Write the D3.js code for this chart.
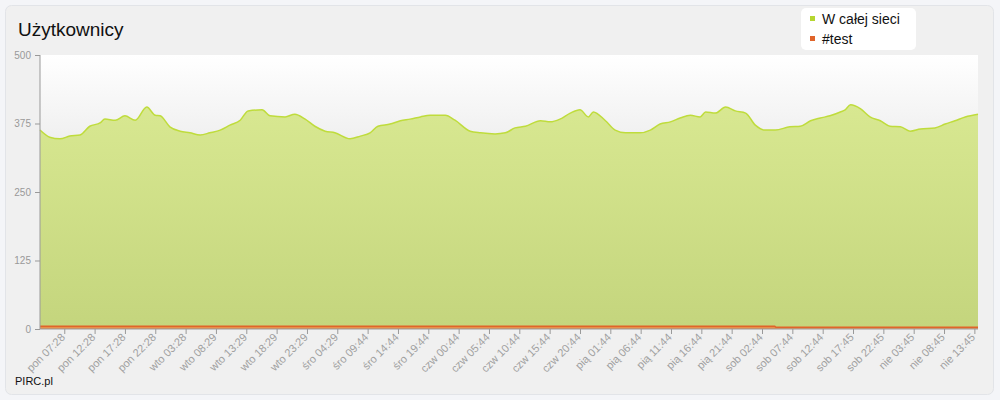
<!DOCTYPE html>
<html>
<head>
<meta charset="utf-8" />
<style>
body { margin: 0; background: #f4f5f8; font-family: "Liberation Sans", Arial, sans-serif; }
</style>
</head>
<body>
<svg id="chart" width="1000" height="400"></svg>
<script src="https://d3js.org/d3.v7.min.js"></script>
<script>
// hours since start of the window
var hours = [0, 1.6, 3.3, 4.9, 6.6, 8.2, 9.9, 10.7, 12.4, 14.0, 15.7, 17.6, 19.0, 19.8, 21.4, 23.1,
  24.7, 26.4, 28.0, 29.7, 31.3, 33.0, 34.3, 36.6, 37.9, 40.4, 42.0, 43.7, 45.3, 47.0, 48.6, 51.1,
  52.8, 54.4, 55.7, 57.7, 59.4, 61.0, 62.7, 64.3, 66.8, 68.4, 70.9, 72.6, 75.0, 76.7, 78.3, 80.0,
  82.5, 84.1, 85.7, 87.4, 89.0, 90.4, 91.2, 93.2, 94.8, 96.5, 98.9, 100.6, 102.2, 103.9, 105.5,
  107.2, 108.8, 109.7, 111.3, 113.0, 114.6, 116.3, 117.9, 119.5, 121.2, 123.6, 125.3, 127.0,
  128.6, 130.2, 131.9, 132.7, 133.6, 135.2, 136.8, 138.5, 140.1, 141.8, 143.4, 145.1, 147.5,
  149.2, 150.8, 152.5, 154.6];
var wCalejSieci = [363, 350, 347, 352, 354, 370, 376, 383, 381, 389, 381, 405, 390, 389, 369, 361,
  358, 354, 358, 363, 372, 381, 398, 400, 389, 387, 392, 383, 370, 361, 358, 347,
  352, 358, 370, 374, 380, 383, 387, 390, 390, 381, 361, 358, 356, 358, 367, 370,
  380, 378, 383, 394, 400, 387, 396, 380, 363, 358, 358, 363, 374, 378, 385,
  390, 387, 396, 394, 405, 398, 394, 372, 363, 363, 369, 370, 380,
  385, 389, 396, 400, 409, 402, 387, 380, 370, 369, 361, 365, 367,
  374, 380, 387, 392];
var testHours = [0, 121.1, 121.3, 154.6];
var test = [5, 5, 3, 3];
var tickLabels = ["pon 07:28", "pon 12:28", "pon 17:28", "pon 22:28", "wto 03:28", "wto 08:29",
  "wto 13:29", "wto 18:29", "wto 23:29", "śro 04:29", "śro 09:44", "śro 14:44", "śro 19:44",
  "czw 00:44", "czw 05:44", "czw 10:44", "czw 15:44", "czw 20:44", "pią 01:44", "pią 06:44",
  "pią 11:44", "pią 16:44", "pią 21:44", "sob 02:44", "sob 07:44", "sob 12:44", "sob 17:45",
  "sob 22:45", "nie 03:45", "nie 08:45", "nie 13:45"];
var yTicks = [0, 125, 250, 375, 500];

var svg = d3.select("#chart");
var defs = svg.append("defs");
var g1 = defs.append("linearGradient").attr("id", "bg").attr("x1", 0).attr("y1", 0).attr("x2", 0).attr("y2", 1);
g1.append("stop").attr("offset", "0").attr("stop-color", "#ffffff");
g1.append("stop").attr("offset", "0.3").attr("stop-color", "#f0f0f0");
g1.append("stop").attr("offset", "1").attr("stop-color", "#f0f0f0");
var g2 = defs.append("linearGradient").attr("id", "green").attr("x1", 0).attr("y1", 0).attr("x2", 0).attr("y2", 1);
g2.append("stop").attr("offset", "0").attr("stop-color", "#d8e891");
g2.append("stop").attr("offset", "1").attr("stop-color", "#c4d57d");

svg.append("rect").attr("x", 5.5).attr("y", 5.5).attr("width", 988).attr("height", 389)
  .attr("rx", 6).attr("fill", "#f0f0f0").attr("stroke", "#e2e4e8");

var mLeft = 40, mRight = 978, mTop = 55, mBottom = 329;
var x = d3.scaleLinear().domain([0, 154.6]).range([mLeft, mRight]);
var y = d3.scaleLinear().domain([0, 500]).range([mBottom, mTop]);

svg.append("rect").attr("x", mLeft).attr("y", mTop).attr("width", mRight - mLeft).attr("height", mBottom - mTop)
  .attr("fill", "url(#bg)");

var pts = hours.map(function(h, i) { return [h, wCalejSieci[i]]; });
svg.append("path").datum(pts)
  .attr("fill", "url(#green)")
  .attr("d", d3.area().curve(d3.curveMonotoneX).x(function(d) { return x(d[0]); }).y0(y(0)).y1(function(d) { return y(d[1]); }));
svg.append("path").datum(pts)
  .attr("fill", "none").attr("stroke", "#bfdc3c").attr("stroke-width", 1.5)
  .attr("d", d3.line().curve(d3.curveMonotoneX).x(function(d) { return x(d[0]); }).y(function(d) { return y(d[1]); }));

var tpts = testHours.map(function(h, i) { return [h, test[i]]; });
svg.append("path").datum(tpts)
  .attr("fill", "#e8904a")
  .attr("d", d3.area().x(function(d) { return x(d[0]); }).y0(y(0)).y1(function(d) { return y(d[1]); }));
svg.append("path").datum(tpts)
  .attr("fill", "none").attr("stroke", "#e0642a").attr("stroke-width", 1.5)
  .attr("d", d3.line().x(function(d) { return x(d[0]); }).y(function(d) { return y(d[1]); }));

// y axis
var ya = svg.append("g").attr("transform", "translate(" + mLeft + ",0)")
  .call(d3.axisLeft(y).tickValues(yTicks).tickSize(5).tickPadding(4));
ya.select(".domain").attr("stroke", "#999").attr("d", "M0," + mTop + "V" + mBottom);
ya.selectAll(".tick line").attr("stroke", "#999");
ya.selectAll("text").attr("fill", "#999").attr("font-size", 10).attr("font-family", "Liberation Sans, Arial");

// x axis
var xa = svg.append("g").attr("transform", "translate(0," + mBottom + ")")
  .call(d3.axisBottom(x).tickValues(tickLabels.map(function(d, i) { return 4 + 5 * i; }))
    .tickFormat(function(d, i) { return tickLabels[i]; }).tickSize(5));
xa.select(".domain").attr("stroke", "#999").attr("d", "M" + mLeft + ",0H" + mRight);
xa.selectAll(".tick line").attr("stroke", "#999");
xa.selectAll("text").attr("fill", "#a0a0a0").attr("font-size", 11).attr("font-family", "Liberation Sans, Arial")
  .attr("text-anchor", "end").attr("dy", 0).attr("y", 0).attr("transform", "translate(1,9) rotate(-45)");

svg.append("text").attr("x", 18).attr("y", 36).attr("font-size", 19).attr("fill", "#111")
  .attr("font-family", "Liberation Sans, Arial").text("Użytkownicy");
svg.append("text").attr("x", 15).attr("y", 385).attr("font-size", 11).attr("fill", "#111")
  .attr("font-family", "Liberation Sans, Arial").text("PIRC.pl");

// legend
var leg = svg.append("g");
leg.append("rect").attr("x", 801).attr("y", 8).attr("width", 115).attr("height", 42).attr("rx", 5)
  .attr("fill", "#fff");
[["W całej sieci", "#b5d630"], ["#test", "#e0642a"]].forEach(function(d, i) {
  leg.append("rect").attr("x", 810).attr("y", 16 + i * 20).attr("width", 5).attr("height", 5).attr("fill", d[1]);
  leg.append("text").attr("x", 822).attr("y", 24 + i * 20).attr("font-size", 14).attr("fill", "#111")
    .attr("font-family", "Liberation Sans, Arial").text(d[0]);
});
</script>
</body>
</html>
